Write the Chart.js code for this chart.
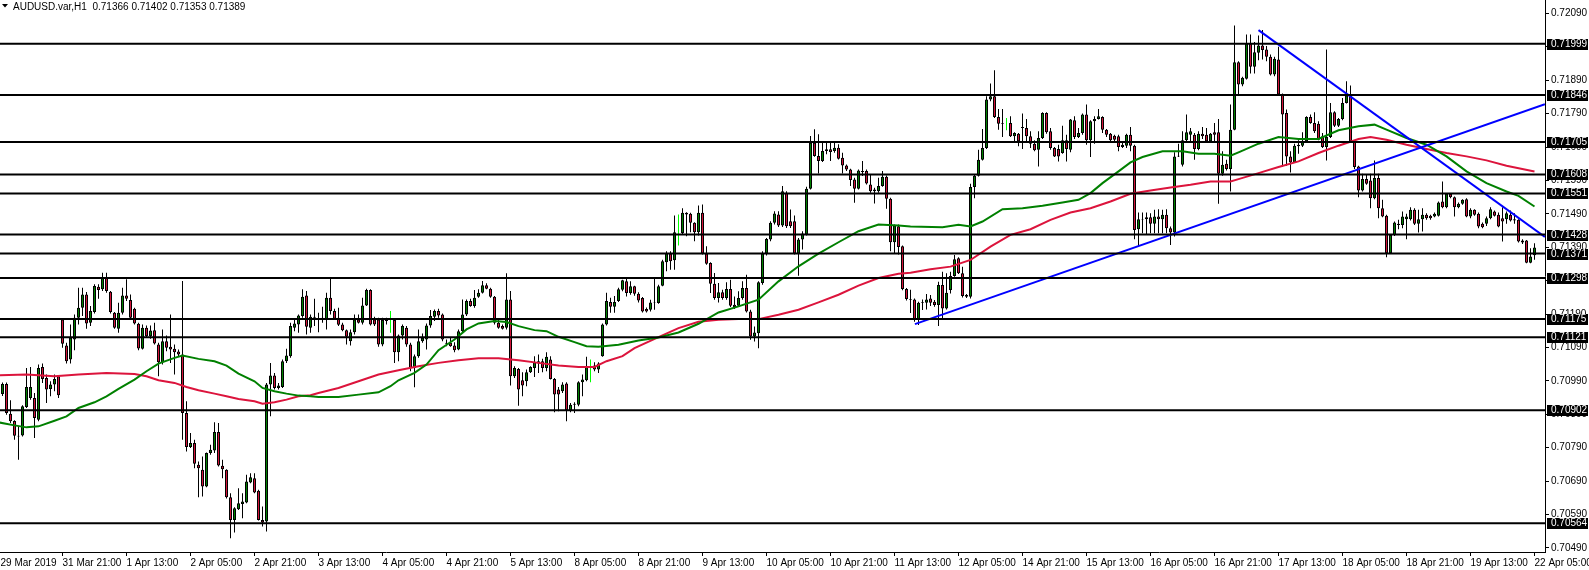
<!DOCTYPE html>
<html>
<head>
<meta charset="utf-8">
<script src="https://cdn.jsdelivr.net/npm/chart.js@4.4.1/dist/chart.umd.min.js"></script>
<style>
html,body{margin:0;padding:0;background:#fff;overflow:hidden}
canvas{display:block}
</style>
</head>
<body>
<canvas id="c" width="1589" height="570" style="width:1589px;height:570px"></canvas>
<script>
// ---------- DATA ----------
const symbolName = "AUDUSD.var,H1";

const open = [
0.70990,0.70951,0.70981,0.70892,0.70870,0.70824,0.70827,0.70912,0.70939,0.70939,
0.70874,0.71032,0.70999,0.70966,0.70979,0.71004,0.71174,0.71096,0.71054,0.71114,
0.71179,0.71209,0.71249,0.71164,0.71196,0.71272,0.71264,0.71299,0.71257,0.71194,
0.71146,0.71194,0.71246,0.71232,0.71206,0.71161,0.71086,0.71149,0.71124,0.71142,
0.71099,0.71046,0.71109,0.71092,0.71086,0.71078,0.71069,0.70894,0.70792,0.70804,
0.70739,0.70724,0.70674,0.70774,0.70782,0.70837,0.70736,0.70724,0.70642,0.70574,
0.70606,0.70622,0.70626,0.70686,0.70699,0.70661,0.70574,0.70569,0.70979,0.71006,
0.70969,0.70972,0.71049,0.71064,0.71149,0.71159,0.71184,0.71246,0.71149,0.71179,
0.71176,0.71176,0.71174,0.71239,0.71199,0.71179,0.71159,0.71142,0.71109,0.71136,
0.71174,0.71164,0.71216,0.71262,0.71174,0.71174,0.71099,0.71174,0.71169,0.71172,
0.71076,0.71126,0.71149,0.71099,0.71029,0.71064,0.71109,0.71114,0.71156,0.71182,
0.71199,0.71189,0.71104,0.71104,0.71096,0.71084,0.71139,0.71189,0.71229,0.71214,
0.71242,0.71254,0.71276,0.71266,0.71242,0.71164,0.71154,0.71149,0.71234,0.71004,
0.71026,0.70992,0.70989,0.71016,0.71029,0.71042,0.71049,0.71029,0.71054,0.70996,
0.70964,0.70959,0.70982,0.70902,0.70919,0.70919,0.70986,0.70992,0.71034,0.71036,
0.71024,0.71064,0.71159,0.71226,0.71212,0.71229,0.71263,0.71288,0.71253,0.71273,
0.71251,0.71238,0.71205,0.71203,0.71225,0.71223,0.71275,0.71345,0.71371,0.71351,
0.71435,0.71433,0.71493,0.71490,0.71463,0.71435,0.71493,0.71371,0.71343,0.71281,
0.71238,0.71255,0.71238,0.71265,0.71218,0.71215,0.71238,0.71268,0.71198,0.71123,
0.71133,0.71283,0.71371,0.71413,0.71463,0.71488,0.71455,0.71553,0.71468,0.71468,
0.71371,0.71413,0.71428,0.71565,0.71703,0.71663,0.71648,0.71678,0.71683,0.71678,
0.71688,0.71658,0.71635,0.71623,0.71593,0.71565,0.71618,0.71618,0.71578,0.71563,
0.71558,0.71573,0.71601,0.71535,0.71405,0.71453,0.71393,0.71265,0.71235,0.71234,
0.71174,0.71224,0.71224,0.71237,0.71227,0.71217,0.71277,0.71207,0.71262,0.71304,
0.71357,0.71312,0.71247,0.71242,0.71570,0.71604,0.71652,0.71687,0.71832,0.71842,
0.71780,0.71762,0.71760,0.71762,0.71722,0.71730,0.71747,0.71747,0.71722,0.71700,
0.71682,0.71717,0.71792,0.71737,0.71687,0.71684,0.71672,0.71710,0.71682,0.71770,
0.71720,0.71732,0.71787,0.71710,0.71767,0.71774,0.71780,0.71742,0.71730,0.71724,
0.71722,0.71690,0.71694,0.71727,0.71694,0.71444,0.71474,0.71474,0.71480,0.71460,
0.71482,0.71474,0.71487,0.71447,0.71434,0.71662,0.71637,0.71710,0.71727,0.71727,
0.71684,0.71730,0.71727,0.71707,0.71734,0.71734,0.71610,0.71640,0.71624,0.71742,
0.71944,0.71877,0.71894,0.72000,0.71930,0.71972,0.71994,0.71982,0.71960,0.71907,
0.71952,0.71847,0.71792,0.71662,0.71644,0.71692,0.71694,0.71707,0.71780,0.71762,
0.71760,0.71722,0.71690,0.71720,0.71794,0.71754,0.71774,0.71822,0.71844,0.71707,
0.71632,0.71560,0.71594,0.71590,0.71537,0.71597,0.71507,0.71484,0.71372,0.71427,
0.71457,0.71457,0.71474,0.71474,0.71502,0.71460,0.71474,0.71487,0.71484,0.71482,
0.71484,0.71527,0.71510,0.71550,0.71540,0.71510,0.71520,0.71534,0.71482,0.71502,
0.71490,0.71460,0.71460,0.71477,0.71497,0.71487,0.71477,0.71474,0.71487,0.71474,
0.71472,0.71410,0.71410,0.71344,0.71366];

const high = [
0.71000,0.70985,0.70985,0.70932,0.70872,0.70854,0.70917,0.71029,0.71032,0.70954,
0.71039,0.71042,0.71009,0.70989,0.71009,0.71005,0.71176,0.71104,0.71159,0.71189,
0.71269,0.71269,0.71256,0.71214,0.71279,0.71279,0.71314,0.71314,0.71259,0.71196,
0.71224,0.71269,0.71294,0.71249,0.71209,0.71164,0.71159,0.71156,0.71156,0.71164,
0.71104,0.71144,0.71126,0.71189,0.71099,0.71084,0.71289,0.70929,0.70834,0.70814,
0.70749,0.70764,0.70776,0.70799,0.70866,0.70864,0.70754,0.70726,0.70654,0.70612,
0.70669,0.70654,0.70709,0.70714,0.70714,0.70664,0.70614,0.70984,0.71044,0.71014,
0.70984,0.71054,0.71086,0.71164,0.71174,0.71189,0.71264,0.71259,0.71189,0.71236,
0.71194,0.71212,0.71254,0.71296,0.71206,0.71209,0.71164,0.71144,0.71144,0.71189,
0.71189,0.71239,0.71266,0.71264,0.71182,0.71179,0.71179,0.71179,0.71199,0.71174,
0.71129,0.71159,0.71154,0.71104,0.71069,0.71144,0.71132,0.71162,0.71202,0.71204,
0.71206,0.71192,0.71114,0.71119,0.71106,0.71144,0.71234,0.71234,0.71236,0.71262,
0.71264,0.71289,0.71282,0.71269,0.71244,0.71172,0.71159,0.71312,0.71259,0.71034,
0.71029,0.71016,0.71024,0.71034,0.71064,0.71069,0.71056,0.71076,0.71064,0.70999,
0.70972,0.70986,0.70986,0.70924,0.70926,0.70989,0.71009,0.71062,0.71054,0.71046,
0.71046,0.71162,0.71254,0.71239,0.71244,0.71269,0.71293,0.71298,0.71288,0.71275,
0.71255,0.71241,0.71210,0.71233,0.71298,0.71278,0.71353,0.71378,0.71378,0.71485,
0.71488,0.71507,0.71495,0.71493,0.71465,0.71515,0.71518,0.71393,0.71345,0.71313,
0.71283,0.71263,0.71285,0.71293,0.71243,0.71258,0.71288,0.71308,0.71203,0.71153,
0.71288,0.71378,0.71418,0.71468,0.71498,0.71498,0.71573,0.71558,0.71503,0.71485,
0.71418,0.71438,0.71571,0.71723,0.71743,0.71728,0.71703,0.71703,0.71703,0.71703,
0.71698,0.71673,0.71638,0.71625,0.71598,0.71623,0.71648,0.71623,0.71608,0.71568,
0.71598,0.71618,0.71605,0.71538,0.71458,0.71458,0.71395,0.71268,0.71263,0.71237,
0.71227,0.71234,0.71250,0.71247,0.71232,0.71287,0.71317,0.71312,0.71317,0.71367,
0.71360,0.71332,0.71250,0.71580,0.71607,0.71682,0.71744,0.71842,0.71880,0.71920,
0.71804,0.71804,0.71777,0.71782,0.71734,0.71732,0.71790,0.71774,0.71737,0.71710,
0.71737,0.71794,0.71794,0.71747,0.71690,0.71697,0.71754,0.71727,0.71774,0.71782,
0.71747,0.71790,0.71817,0.71770,0.71782,0.71804,0.71782,0.71744,0.71732,0.71727,
0.71727,0.71702,0.71730,0.71750,0.71697,0.71494,0.71494,0.71494,0.71492,0.71502,
0.71504,0.71502,0.71504,0.71452,0.71674,0.71700,0.71737,0.71787,0.71747,0.71732,
0.71737,0.71750,0.71747,0.71732,0.71762,0.71774,0.71677,0.71652,0.71817,0.72054,
0.71947,0.71900,0.72027,0.72027,0.72004,0.72024,0.72040,0.71992,0.71967,0.71960,
0.71990,0.71850,0.71802,0.71677,0.71700,0.71710,0.71734,0.71782,0.71787,0.71794,
0.71767,0.71732,0.71982,0.71822,0.71797,0.71777,0.71837,0.71887,0.71874,0.71710,
0.71634,0.71610,0.71607,0.71610,0.71650,0.71610,0.71532,0.71487,0.71430,0.71467,
0.71472,0.71497,0.71490,0.71510,0.71507,0.71502,0.71507,0.71492,0.71487,0.71494,
0.71527,0.71587,0.71552,0.71552,0.71542,0.71524,0.71534,0.71537,0.71507,0.71504,
0.71494,0.71464,0.71482,0.71510,0.71500,0.71494,0.71510,0.71497,0.71500,0.71492,
0.71474,0.71414,0.71412,0.71387,0.71402];

const low = [
0.70950,0.70945,0.70889,0.70864,0.70814,0.70754,0.70824,0.70909,0.70934,0.70819,
0.70869,0.70984,0.70924,0.70944,0.70959,0.70939,0.71089,0.71042,0.71042,0.71082,
0.71159,0.71184,0.71146,0.71154,0.71192,0.71236,0.71259,0.71254,0.71192,0.71146,
0.71134,0.71189,0.71229,0.71174,0.71159,0.71082,0.71084,0.71119,0.71116,0.71099,
0.71004,0.71039,0.71079,0.71044,0.71009,0.71064,0.70814,0.70779,0.70789,0.70729,
0.70642,0.70644,0.70672,0.70769,0.70774,0.70734,0.70699,0.70638,0.70519,0.70536,
0.70604,0.70579,0.70624,0.70684,0.70654,0.70572,0.70554,0.70539,0.70884,0.70964,
0.70964,0.70969,0.71044,0.71059,0.71139,0.71134,0.71179,0.71129,0.71134,0.71154,
0.71136,0.71164,0.71144,0.71189,0.71174,0.71154,0.71139,0.71099,0.71096,0.71129,
0.71162,0.71159,0.71214,0.71156,0.71154,0.71092,0.71094,0.71159,0.71134,0.71044,
0.71049,0.71114,0.71092,0.71019,0.70971,0.71059,0.71104,0.71084,0.71149,0.71169,
0.71179,0.71109,0.71094,0.71092,0.71076,0.71082,0.71136,0.71184,0.71212,0.71209,
0.71239,0.71252,0.71264,0.71239,0.71159,0.71146,0.71144,0.71144,0.70976,0.70999,
0.70916,0.70944,0.70974,0.71014,0.71002,0.71014,0.71016,0.71019,0.70994,0.70896,
0.70899,0.70954,0.70869,0.70896,0.70894,0.70914,0.70944,0.70989,0.70986,0.71019,
0.71014,0.71062,0.71156,0.71194,0.71194,0.71226,0.71258,0.71243,0.71248,0.71245,
0.71225,0.71195,0.71195,0.71198,0.71203,0.71221,0.71273,0.71318,0.71323,0.71323,
0.71395,0.71428,0.71423,0.71435,0.71408,0.71425,0.71368,0.71338,0.71253,0.71233,
0.71225,0.71233,0.71233,0.71211,0.71205,0.71211,0.71233,0.71195,0.71113,0.71108,
0.71088,0.71278,0.71365,0.71408,0.71458,0.71451,0.71451,0.71448,0.71448,0.71368,
0.71305,0.71383,0.71425,0.71563,0.71661,0.71611,0.71645,0.71668,0.71648,0.71673,
0.71653,0.71611,0.71618,0.71573,0.71523,0.71563,0.71603,0.71578,0.71553,0.71521,
0.71553,0.71571,0.71505,0.71378,0.71371,0.71368,0.71261,0.71231,0.71193,0.71167,
0.71157,0.71202,0.71204,0.71214,0.71212,0.71154,0.71172,0.71204,0.71252,0.71302,
0.71310,0.71240,0.71238,0.71237,0.71537,0.71602,0.71650,0.71684,0.71827,0.71777,
0.71742,0.71720,0.71740,0.71720,0.71707,0.71692,0.71684,0.71707,0.71687,0.71677,
0.71632,0.71714,0.71730,0.71682,0.71660,0.71647,0.71670,0.71647,0.71674,0.71714,
0.71717,0.71727,0.71697,0.71660,0.71700,0.71772,0.71732,0.71720,0.71707,0.71707,
0.71677,0.71687,0.71687,0.71677,0.71414,0.71394,0.71432,0.71427,0.71432,0.71432,
0.71432,0.71432,0.71432,0.71397,0.71422,0.71660,0.71632,0.71707,0.71707,0.71652,
0.71680,0.71714,0.71704,0.71704,0.71704,0.71520,0.71604,0.71620,0.71557,0.71740,
0.71844,0.71872,0.71892,0.71910,0.71910,0.71950,0.71952,0.71947,0.71904,0.71902,
0.71844,0.71632,0.71634,0.71614,0.71642,0.71670,0.71690,0.71704,0.71760,0.71732,
0.71710,0.71687,0.71650,0.71717,0.71750,0.71750,0.71770,0.71820,0.71704,0.71624,
0.71540,0.71557,0.71577,0.71507,0.71534,0.71477,0.71480,0.71360,0.71372,0.71424,
0.71444,0.71447,0.71414,0.71470,0.71457,0.71434,0.71437,0.71472,0.71472,0.71480,
0.71482,0.71507,0.71507,0.71537,0.71482,0.71507,0.71517,0.71480,0.71477,0.71484,
0.71447,0.71447,0.71454,0.71474,0.71482,0.71450,0.71407,0.71460,0.71467,0.71460,
0.71404,0.71400,0.71342,0.71342,0.71353];

const close = [
0.70960,0.70981,0.70894,0.70869,0.70826,0.70826,0.70914,0.70972,0.70972,0.70879,
0.71029,0.70996,0.70964,0.70979,0.70996,0.70947,0.71101,0.71049,0.71119,0.71179,
0.71209,0.71249,0.71162,0.71199,0.71274,0.71262,0.71299,0.71259,0.71196,0.71149,
0.71194,0.71246,0.71236,0.71179,0.71162,0.71087,0.71149,0.71124,0.71141,0.71102,
0.71046,0.71109,0.71089,0.71084,0.71076,0.71069,0.70894,0.70792,0.70804,0.70742,
0.70729,0.70674,0.70774,0.70784,0.70837,0.70737,0.70726,0.70642,0.70574,0.70609,
0.70624,0.70629,0.70689,0.70702,0.70656,0.70574,0.70566,0.70979,0.71006,0.70969,
0.70976,0.71049,0.71066,0.71154,0.71162,0.71186,0.71242,0.71152,0.71182,0.71182,
0.71174,0.71179,0.71239,0.71199,0.71176,0.71158,0.71142,0.71122,0.71136,0.71174,
0.71164,0.71216,0.71262,0.71159,0.71159,0.71099,0.71172,0.71169,0.71169,0.71076,
0.71126,0.71154,0.71099,0.71029,0.71064,0.71109,0.71119,0.71156,0.71184,0.71199,
0.71186,0.71114,0.71101,0.71094,0.71082,0.71139,0.71189,0.71229,0.71214,0.71239,
0.71254,0.71276,0.71266,0.71242,0.71164,0.71149,0.71146,0.71234,0.71004,0.71029,
0.70964,0.70976,0.71016,0.71032,0.71046,0.71049,0.71029,0.71062,0.70996,0.70949,
0.70949,0.70979,0.70902,0.70919,0.70922,0.70986,0.70994,0.71034,0.71034,0.71024,
0.71042,0.71159,0.71229,0.71212,0.71226,0.71264,0.71291,0.71253,0.71273,0.71251,
0.71231,0.71198,0.71198,0.71225,0.71223,0.71273,0.71348,0.71371,0.71348,0.71435,
0.71435,0.71493,0.71488,0.71463,0.71435,0.71493,0.71371,0.71341,0.71281,0.71238,
0.71255,0.71238,0.71265,0.71215,0.71211,0.71238,0.71268,0.71198,0.71123,0.71135,
0.71285,0.71371,0.71415,0.71463,0.71491,0.71455,0.71558,0.71453,0.71453,0.71371,
0.71413,0.71431,0.71565,0.71703,0.71663,0.71648,0.71678,0.71683,0.71675,0.71688,
0.71655,0.71635,0.71623,0.71591,0.71565,0.71620,0.71615,0.71581,0.71558,0.71558,
0.71573,0.71601,0.71535,0.71405,0.71455,0.71391,0.71265,0.71235,0.71233,0.71174,
0.71224,0.71226,0.71234,0.71224,0.71217,0.71277,0.71207,0.71254,0.71304,0.71354,
0.71312,0.71244,0.71242,0.71570,0.71604,0.71652,0.71687,0.71832,0.71842,0.71780,
0.71760,0.71760,0.71760,0.71722,0.71732,0.71707,0.71750,0.71722,0.71700,0.71680,
0.71717,0.71792,0.71734,0.71687,0.71662,0.71662,0.71710,0.71684,0.71772,0.71720,
0.71732,0.71787,0.71710,0.71767,0.71774,0.71782,0.71742,0.71727,0.71710,0.71712,
0.71690,0.71697,0.71727,0.71694,0.71442,0.71474,0.71472,0.71480,0.71460,0.71482,
0.71474,0.71487,0.71447,0.71434,0.71662,0.71664,0.71710,0.71734,0.71737,0.71684,
0.71730,0.71722,0.71707,0.71730,0.71727,0.71610,0.71637,0.71624,0.71742,0.71944,
0.71877,0.71897,0.72000,0.71930,0.71974,0.71994,0.71980,0.71960,0.71907,0.71954,
0.71847,0.71787,0.71662,0.71644,0.71694,0.71697,0.71707,0.71780,0.71762,0.71737,
0.71712,0.71690,0.71720,0.71794,0.71754,0.71774,0.71822,0.71844,0.71707,0.71630,
0.71560,0.71594,0.71580,0.71537,0.71597,0.71507,0.71482,0.71372,0.71427,0.71464,
0.71460,0.71482,0.71482,0.71502,0.71460,0.71474,0.71487,0.71477,0.71477,0.71490,
0.71524,0.71510,0.71550,0.71540,0.71510,0.71520,0.71532,0.71482,0.71502,0.71487,
0.71452,0.71450,0.71477,0.71504,0.71484,0.71452,0.71467,0.71492,0.71470,0.71470,
0.71407,0.71404,0.71344,0.71362,0.71389];

// Time-axis labels (bar index where each label sits)
const xTickBars = [0.5,16,32,48,64,80,96,112,128,144,160,176,192,208,224,240,256,272,288,304,320,336,352,368,384];
const xTickLabels = ["29 Mar 2019","31 Mar 21:00","1 Apr 13:00","2 Apr 05:00","2 Apr 21:00","3 Apr 13:00",
  "4 Apr 05:00","4 Apr 21:00","5 Apr 13:00","8 Apr 05:00","8 Apr 21:00","9 Apr 13:00","10 Apr 05:00",
  "10 Apr 21:00","11 Apr 13:00","12 Apr 05:00","14 Apr 21:00","15 Apr 13:00","16 Apr 05:00","16 Apr 21:00",
  "17 Apr 13:00","18 Apr 05:00","18 Apr 21:00","19 Apr 13:00","22 Apr 05:00"];

// Price-axis tick labels
const yTickValues = [0.70490,0.70590,0.70690,0.70790,0.70890,0.70990,0.71090,0.71190,0.71290,
  0.71390,0.71490,0.71590,0.71690,0.71790,0.71890,0.71990,0.72090];

// Horizontal support / resistance levels
const levels = [0.71999,0.71846,0.71705,0.71608,0.71551,0.71428,0.71371,0.71298,0.71175,0.71121,0.70902,0.70564];

// Fast moving average (green), read at sample bars
const maFastBars = [0,4,7,10,14,17,20,24,27,30,34,37,40,44,46,50,54,57,60,64,66,69,72,75,78,80,85,90,95,98,
  100,104,107,110,114,117,120,124,127,130,134,137,140,144,147,150,155,160,165,170,175,180,185,190,195,200,
  205,210,215,220,225,228,236,240,243,246,251,256,261,266,270,273,276,280,283,286,291,296,300,304,308,310,
  315,320,325,330,335,340,344,347,352,357,362,367,372,377,380,384];
const maFastVals = [0.70866,0.70857,0.70851,0.70854,0.70871,0.70884,0.70909,0.70926,0.70944,0.70966,0.70994,
  0.71019,0.71042,0.71059,0.71066,0.71056,0.71049,0.71036,0.71012,0.70989,0.70969,0.70959,0.70952,0.70946,
  0.70944,0.70942,0.70942,0.70949,0.70956,0.70974,0.70992,0.71014,0.71039,0.71082,0.71114,0.71144,0.71162,
  0.71169,0.71166,0.71154,0.71142,0.71139,0.71122,0.71106,0.71094,0.71092,0.71098,0.71111,0.71120,0.71135,
  0.71161,0.71195,0.71213,0.71233,0.71288,0.71333,0.71371,0.71405,0.71438,0.71458,0.71455,0.71452,0.71450,
  0.71457,0.71452,0.71467,0.71504,0.71507,0.71514,0.71524,0.71532,0.71552,0.71582,0.71617,0.71644,0.71660,
  0.71677,0.71677,0.71670,0.71670,0.71664,0.71674,0.71700,0.71720,0.71714,0.71714,0.71740,0.71752,0.71757,
  0.71742,0.71717,0.71697,0.71662,0.71617,0.71582,0.71557,0.71544,0.71512];

// Slow moving average (red), read at sample bars
const maSlowBars = [0,7,14,20,27,34,37,40,44,47,50,54,57,60,64,66,69,72,75,78,80,85,90,95,100,105,110,115,120,
  125,130,135,140,145,149,152,156,159,165,170,175,180,185,190,195,200,205,210,215,220,225,228,233,238,243,248,
  253,258,263,268,273,278,283,288,293,298,303,308,310,315,320,325,330,335,340,343,347,352,357,362,367,372,377,384];
const maSlowVals = [0.71007,0.71009,0.71004,0.71009,0.71014,0.71011,0.71004,0.70992,0.70984,0.70972,0.70962,
  0.70952,0.70944,0.70936,0.70929,0.70922,0.70926,0.70934,0.70944,0.70947,0.70954,0.70969,0.70989,0.71009,
  0.71022,0.71034,0.71044,0.71052,0.71058,0.71058,0.71052,0.71044,0.71036,0.71032,0.71032,0.71049,0.71064,
  0.71088,0.71121,0.71148,0.71167,0.71173,0.71175,0.71175,0.71188,0.71203,0.71225,0.71248,0.71275,0.71298,
  0.71311,0.71314,0.71324,0.71332,0.71352,0.71392,0.71427,0.71444,0.71472,0.71494,0.71507,0.71527,0.71550,
  0.71560,0.71569,0.71577,0.71587,0.71587,0.71594,0.71612,0.71630,0.71647,0.71672,0.71694,0.71714,0.71720,
  0.71712,0.71697,0.71684,0.71672,0.71662,0.71650,0.71634,0.71617];

// Trend lines (anchor bar, anchor price)
const trendUpBars = [229.1, 386.6];
const trendUpVals = [0.71160, 0.71818];
const trendDownBars = [315.0, 386.6];
const trendDownVals = [0.72040, 0.71421];

// ---------- STYLE ----------
const FONT = '"Liberation Sans", Arial, sans-serif';
const BULL = '#008000';
const BEAR = '#D2143A';
const X_MIN = 0.375, X_MAX = 386.625;
const Y_MIN = 0.70478, Y_MAX = 0.72130;

Chart.defaults.font.family = FONT;
Chart.defaults.font.size = 10;
Chart.defaults.color = '#000';

const bodyData = open.map((o, i) => ({x: i, y: [o, close[i]]}));
const wickData = open.map((o, i) => ({x: i, y: [low[i], high[i]]}));
const toPts = (xs, ys) => xs.map((b, k) => ({x: b, y: ys[k]}));

const datasets = [];
levels.forEach(v => datasets.push({
  type: 'line', data: [{x: X_MIN, y: v}, {x: X_MAX, y: v}],
  borderColor: '#000', borderWidth: 2, pointRadius: 0, order: 1, clip: 0
}));
datasets.push({type: 'line', data: toPts(trendUpBars, trendUpVals), borderColor: '#0000FF', borderWidth: 2, pointRadius: 0, order: 2, clip: 0});
datasets.push({type: 'line', data: toPts(trendDownBars, trendDownVals), borderColor: '#0000FF', borderWidth: 2, pointRadius: 0, order: 2, clip: 0});
datasets.push({type: 'line', data: toPts(maFastBars, maFastVals), borderColor: '#008000', borderWidth: 2, pointRadius: 0, tension: 0, order: 3, clip: 0});
datasets.push({type: 'line', data: toPts(maSlowBars, maSlowVals), borderColor: '#DC143C', borderWidth: 2, pointRadius: 0, tension: 0, order: 3, clip: 0});
datasets.push({
  type: 'bar', data: bodyData, grouped: false, barThickness: 3, inflateAmount: 0,
  borderSkipped: false, borderWidth: 1, borderColor: '#000',
  backgroundColor: c => (close[c.dataIndex] >= open[c.dataIndex] ? BULL : BEAR), order: 4
});
datasets.push({
  type: 'bar', data: wickData, grouped: false, barThickness: 1, inflateAmount: 0,
  borderWidth: 0,
  backgroundColor: c => (open[c.dataIndex] === close[c.dataIndex] ? '#00FF00' : '#000'), order: 5
});

const overlay = {
  id: 'overlay',
  afterDraw(chart) {
    const {ctx, chartArea, scales} = chart;
    const y = scales.y;
    ctx.save();
    ctx.font = '10px ' + FONT;
    ctx.textBaseline = 'middle';
    ctx.textAlign = 'left';
    levels.forEach(v => {
      const py = Math.round(y.getPixelForValue(v));
      ctx.fillStyle = '#000';
      ctx.fillRect(chartArea.right + 2, py - 5, 41, 11);
      ctx.fillStyle = '#fff';
      ctx.fillText(v.toFixed(5), chartArea.right + 6, py + 0.5);
    });
    // header
    const n = open.length - 1;
    ctx.fillStyle = '#000';
    ctx.beginPath();
    ctx.moveTo(2, 4); ctx.lineTo(8, 4); ctx.lineTo(5, 7.5); ctx.closePath(); ctx.fill();
    const head = symbolName + '  ' + [open[n], high[n], low[n], close[n]].map(v => v.toFixed(5)).join(' ');
    ctx.fillText(head, 13, 7);
    ctx.restore();
  }
};

new Chart(document.getElementById('c'), {
  type: 'bar',
  data: {datasets},
  plugins: [overlay],
  options: {
    responsive: false, animation: false, devicePixelRatio: 1,
    layout: {padding: 0},
    plugins: {legend: {display: false}, tooltip: {enabled: false}},
    scales: {
      x: {
        type: 'linear', position: 'bottom', min: X_MIN, max: X_MAX, offset: false,
        grid: {display: true, drawOnChartArea: false, drawTicks: true, tickLength: 4, offset: false,
               color: '#000', tickColor: c => (c.index === 0 ? 'rgba(0,0,0,0)' : '#000')},
        border: {display: true, color: '#000', width: 1},
        afterBuildTicks: s => { s.ticks = xTickBars.map(v => ({value: v})); },
        ticks: {autoSkip: false, maxRotation: 0, minRotation: 0, align: 'start', padding: 1,
                color: '#000', font: {size: 10, family: FONT}, callback: (v, i) => xTickLabels[i]},
        afterFit: s => { s.height = 18; s.paddingLeft = 0; s.paddingRight = 0; }
      },
      y: {
        type: 'linear', position: 'right', min: Y_MIN, max: Y_MAX, beginAtZero: false,
        grid: {display: true, drawOnChartArea: false, drawTicks: true, tickLength: 4, color: '#000'},
        border: {display: true, color: '#000', width: 1},
        afterBuildTicks: s => { s.ticks = yTickValues.map(v => ({value: v})); },
        ticks: {autoSkip: false, padding: 2, color: '#000', font: {size: 10, family: FONT},
                callback: v => Number(v).toFixed(5)},
        afterFit: s => { s.width = 44; s.paddingTop = 0; s.paddingBottom = 0; }
      }
    }
  }
});
</script>
</body>
</html>
